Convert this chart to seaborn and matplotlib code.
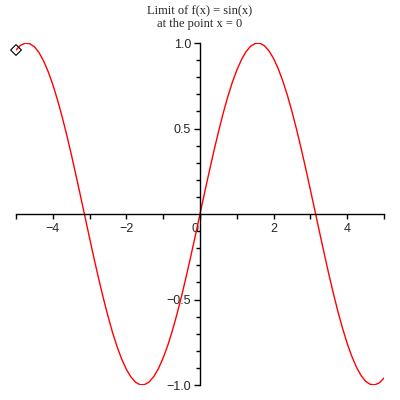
import matplotlib
matplotlib.use("Agg")
import matplotlib.pyplot as plt
import matplotlib.transforms as mtransforms
import seaborn as sns
import pandas as pd

# values
x_vals = [-5.0, -4.875, -4.75, -4.625, -4.5, -4.375, -4.25, -4.125,
          -4.0, -3.875, -3.75, -3.625, -3.5, -3.375, -3.25, -3.125,
          -3.0, -2.875, -2.75, -2.625, -2.5, -2.375, -2.25, -2.125,
          -2.0, -1.875, -1.75, -1.625, -1.5, -1.375, -1.25, -1.125,
          -1.0, -0.875, -0.75, -0.625, -0.5, -0.375, -0.25, -0.125,
          0.0, 0.125, 0.25, 0.375, 0.5, 0.625, 0.75, 0.875,
          1.0, 1.125, 1.25, 1.375, 1.5, 1.625, 1.75, 1.875,
          2.0, 2.125, 2.25, 2.375, 2.5, 2.625, 2.75, 2.875,
          3.0, 3.125, 3.25, 3.375, 3.5, 3.625, 3.75, 3.875,
          4.0, 4.125, 4.25, 4.375, 4.5, 4.625, 4.75, 4.875, 5.0]
y_vals = [0.959, 0.987, 0.999, 0.996, 0.978, 0.944, 0.895, 0.832,
          0.757, 0.669, 0.572, 0.465, 0.351, 0.231, 0.108, -0.017,
          -0.141, -0.264, -0.382, -0.494, -0.598, -0.694, -0.778, -0.850,
          -0.909, -0.954, -0.984, -0.999, -0.997, -0.981, -0.949, -0.902,
          -0.841, -0.768, -0.682, -0.585, -0.479, -0.366, -0.247, -0.125,
          0.0, 0.125, 0.247, 0.366, 0.479, 0.585, 0.682, 0.768,
          0.841, 0.902, 0.949, 0.981, 0.997, 0.999, 0.984, 0.954,
          0.909, 0.850, 0.778, 0.694, 0.598, 0.494, 0.382, 0.264,
          0.141, 0.017, -0.108, -0.231, -0.351, -0.465, -0.572, -0.669,
          -0.757, -0.832, -0.895, -0.944, -0.978, -0.996, -0.999, -0.987, -0.959]
point_x = [-5.0]
point_y = [0.959]

x_ticks = [-4, -2, 0, 2, 4]
x_minor = [-5, -3, -1, 1, 3, 5]
y_ticks = [-1.0, -0.5, 0.5, 1.0]
y_minor = [-0.9, -0.8, -0.7, -0.6, -0.4, -0.3, -0.2, -0.1,
           0.1, 0.2, 0.3, 0.4, 0.6, 0.7, 0.8, 0.9]

sns.set_style("white")
plt.rcParams['font.family'] = ['Liberation Sans', 'DejaVu Sans']

df = pd.DataFrame({"x": x_vals, "y": y_vals})

fig = plt.figure(figsize=(4, 4), dpi=100)
ax = fig.add_axes([0.04, 0.0375, 0.92, 0.855])

sns.lineplot(data=df, x="x", y="y", color="red", linewidth=1.0, ax=ax)
ax.scatter(point_x, point_y, marker="D", s=30, facecolors="none",
           edgecolors="black", linewidths=0.8, zorder=5, clip_on=False)

ax.set_xlim(-5, 5)
ax.set_ylim(-1, 1)
ax.set_xlabel("")
ax.set_ylabel("")

for s in ["top", "right"]:
    ax.spines[s].set_visible(False)
ax.spines["left"].set_position(("data", 0))
ax.spines["bottom"].set_position(("data", 0))
for s in ["left", "bottom"]:
    ax.spines[s].set_color("black")
    ax.spines[s].set_linewidth(1.0)

ax.set_xticks(x_ticks)
ax.set_xticklabels([str(v).replace("-", "\u2212") for v in x_ticks])
ax.set_xticks(x_minor, minor=True)
ax.set_yticks(y_ticks)
ax.set_yticklabels(["{:.1f}".format(v).replace("-", "\u2212") for v in y_ticks])
ax.set_yticks(y_minor, minor=True)

ax.tick_params(axis="both", which="both", direction="out", color="black",
               labelsize=9, width=1.0, bottom=True, left=True)
ax.tick_params(axis="x", which="both", length=3.5, pad=3)
ax.tick_params(axis="y", which="major", length=4.5, pad=2)
ax.tick_params(axis="y", which="minor", length=3)

# shift the x "0" label to the left of the vertical axis
for lab in ax.get_xticklabels():
    if lab.get_text() == "0":
        lab.set_transform(lab.get_transform() +
                          mtransforms.ScaledTranslation(-5 / 100, 0, fig.dpi_scale_trans))

fig.text(0.5, 0.987, "Limit of f(x) = sin(x)\nat the point x = 0", ha="center", va="top",
         fontsize=9, family="Liberation Serif", linespacing=1.1)

fig.savefig("out.png", dpi=100)
